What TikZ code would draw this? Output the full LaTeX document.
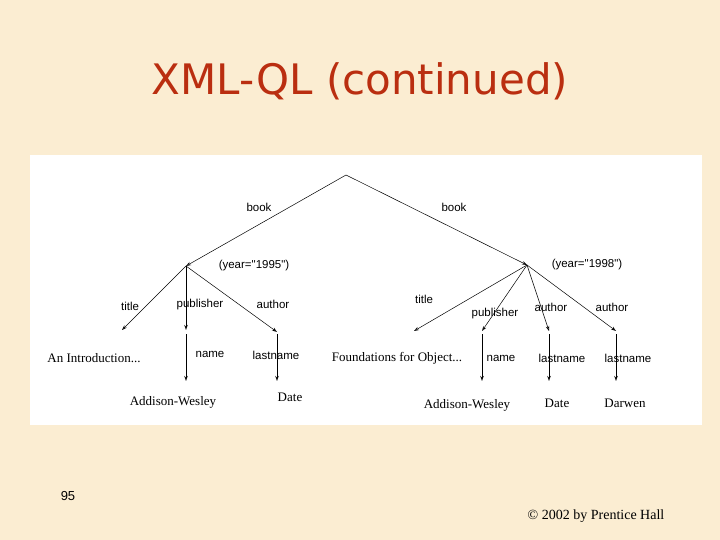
\documentclass[tikz,border=0pt]{standalone}
\usepackage{fontspec}
\setmainfont{Liberation Serif}
\newfontfamily\titlefont{DejaVu Sans}
\newfontfamily\numfont{Liberation Sans}
\usetikzlibrary{arrows.meta}
\definecolor{bgcol}{RGB}{251,237,210}
\definecolor{titlecol}{RGB}{186,46,16}
\tikzset{
  edge/.style={draw=black, line width=0.5pt, -{Stealth[length=5pt,width=3.5pt,open]}},
  lbl/.style={inner sep=0pt, font=\numfont\fontsize{11.5}{12}\selectfont},
  leaf/.style={inner sep=0pt, font=\fontsize{13}{15}\selectfont},
  pt/.style={inner sep=0pt, minimum size=0pt}
}
\begin{document}
\begin{tikzpicture}[x=1pt,y=-1pt]
\useasboundingbox (0,0) rectangle (720,540);
\fill[bgcol] (0,0) rectangle (720,540);
\fill[white] (30,155) rectangle (702,425);
\node[text=titlecol, font=\titlefont\fontsize{42}{46}\selectfont] (title) at (360,81) {XML-QL (continued)};
% tree points
\coordinate (root) at (346,175);
\coordinate (y1) at (186,266);
\coordinate (y2) at (527,265);
\coordinate (t1) at (122,330);
\coordinate (p1) at (186,330);
\coordinate (a1) at (277,332);
\coordinate (p1b) at (186,334);
\coordinate (n1) at (186,381);
\coordinate (a1b) at (277,334);
\coordinate (l1) at (277,381);
\coordinate (t2) at (414,331);
\coordinate (p2) at (482,331);
\coordinate (a2) at (549,331);
\coordinate (a3) at (616,331);
\coordinate (p2b) at (482,334);
\coordinate (n2) at (482,381);
\coordinate (a2b) at (549,334);
\coordinate (l2) at (549,381);
\coordinate (a3b) at (616,334);
\coordinate (l3) at (616,381);
% edges
\draw[edge] (root) -- (y1);
\draw[edge] (root) -- (y2);
\draw[edge] (y1) -- (t1);
\draw[edge] (y1) -- (p1);
\draw[edge] (y1) -- (a1);
\draw[edge] (p1b) -- (n1);
\draw[edge] (a1b) -- (l1);
\draw[edge] (y2) -- (t2);
\draw[edge] (y2) -- (p2);
\draw[edge] (y2) -- (a2);
\draw[edge] (y2) -- (a3);
\draw[edge] (p2b) -- (n2);
\draw[edge] (a2b) -- (l2);
\draw[edge] (a3b) -- (l3);
% labels
\node[lbl] (bk1) at (259,207) {book};
\node[lbl] (bk2) at (454,207) {book};
\node[lbl] (yr1) at (254,266) {(year="1995")};
\node[lbl] (yr2) at (587,265) {(year="1998")};
\node[lbl] (tl1) at (130,306) {title};
\node[lbl] (pl1) at (200,305) {publisher};
\node[lbl] (al1) at (273,304) {author};
\node[lbl] (nl1) at (210,354) {name};
\node[lbl] (ll1) at (276,355) {lastname};
\node[lbl] (tl2) at (424,299) {title};
\node[lbl] (pl2) at (495,314) {publisher};
\node[lbl] (al2) at (551,307) {author};
\node[lbl] (al3) at (612,307) {author};
\node[lbl] (nl2) at (501,358) {name};
\node[lbl] (ll2) at (562,358) {lastname};
\node[lbl] (ll3) at (628,358) {lastname};
% leaves
\node[leaf] (v1) at (94,358) {An Introduction...};
\node[leaf] (v2) at (173,402) {Addison-Wesley};
\node[leaf] (v3) at (290,397) {Date};
\node[leaf] (v4) at (397,358) {Foundations for Object...};
\node[leaf] (v5) at (467,405) {Addison-Wesley};
\node[leaf] (v6) at (557,403) {Date};
\node[leaf] (v7) at (625,403) {Darwen};
% footer
\node[font=\numfont\fontsize{13}{15}\selectfont] (num) at (68,496) {95};
\node[font=\fontsize{14}{16}\selectfont] (copy) at (596,516) {© 2002 by Prentice Hall};
\end{tikzpicture}
\end{document}
